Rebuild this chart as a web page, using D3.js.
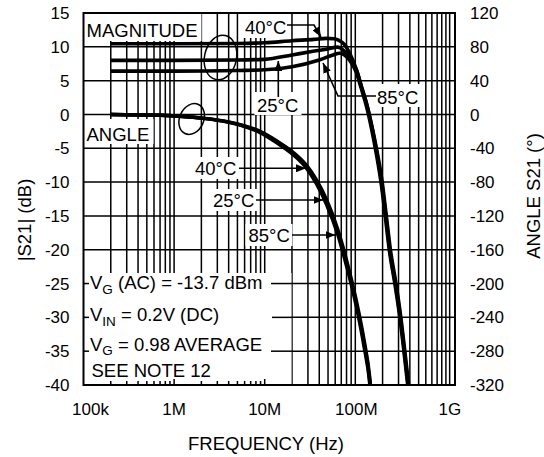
<!DOCTYPE html>
<html><head><meta charset="utf-8">
<script src="https://cdn.jsdelivr.net/npm/d3@7"></script>
<style>
html,body{margin:0;padding:0;background:#fff;}
svg{display:block;font-family:"Liberation Sans",Arial,Helvetica,sans-serif;}
</style></head><body>
<svg id="chart" width="544" height="457"></svg>
<script>
// ---------- DATA ----------
const xTickValues = [1e5, 1e6, 1e7, 1e8, 1e9];
const xTickLabels = ["100k", "1M", "10M", "100M", "1G"];
const yLeftTicks = [15, 10, 5, 0, -5, -10, -15, -20, -25, -30, -35, -40];
const yRightTicks = [120, 80, 40, 0, -40, -80, -120, -160, -200, -240, -280, -320];

// Magnitude |S21| (dB)
const mag40Freq = [2e5, 1e6, 5e6, 1e7, 2e7, 3.5e7, 4.8e7, 5.8e7, 6.5e7, 7.66e7, 8.7e7, 1.03e8, 1.17e8, 1.33e8, 1.45e8, 1.64e8, 1.95e8, 2.17e8, 2.4e8, 2.77e8, 3.14e8, 3.48e8, 3.83e8, 4.0e8];
const mag40Db   = [10.45, 10.45, 10.5, 10.6, 10.9, 11.1, 11.25, 11.2, 11.0, 10.3, 9.0, 6.6, 4.1, 1.6, -0.5, -4, -10, -15, -20, -25, -30, -35, -40, -42];
const mag25Freq = [2e5, 1e6, 5e6, 1e7, 2e7, 3.3e7, 4.8e7, 6.4e7, 7.3e7, 8.2e7, 1.04e8, 1.18e8, 1.35e8, 1.47e8, 1.67e8, 1.98e8, 2.2e8, 2.44e8, 2.81e8, 3.18e8, 3.52e8, 3.88e8, 4.05e8];
const mag25Db   = [8.0, 8.0, 8.05, 8.15, 8.8, 9.3, 9.65, 9.95, 9.55, 8.8, 6.4, 3.9, 1.3, -0.8, -4.3, -10, -15, -20, -25, -30, -35, -40, -42];
const mag85Freq = [2e5, 1e6, 5e6, 1e7, 2e7, 4e7, 5.7e7, 6.7e7, 7.6e7, 8.7e7, 1.02e8, 1.16e8, 1.31e8, 1.43e8, 1.61e8, 1.92e8, 2.14e8, 2.37e8, 2.73e8, 3.1e8, 3.44e8, 3.79e8, 3.95e8];
const mag85Db   = [6.4, 6.4, 6.5, 6.6, 7.05, 8.05, 8.8, 9.05, 8.8, 8.0, 6.3, 3.9, 1.5, -0.6, -4, -10, -15, -20, -25, -30, -35, -40, -42];

// Angle S21 (degrees)
const angFreq = [2e5, 7e5, 2.07e6, 3.77e6, 5.77e6, 8.8e6, 1.35e7, 2.05e7, 2.89e7, 3.73e7, 4.81e7, 6.46e7, 8.0e7, 9.15e7, 1.074e8, 1.242e8, 1.445e8, 1.5e8];
const ang40 = [0, -1, -4.3, -8.2, -12.8, -19.6, -31, -44.5, -60, -77.5, -100.5, -137, -172, -197, -230, -265, -311, -330];
const ang25 = [0, -1, -4.5, -8.5, -13.3, -20.4, -32.2, -46, -61.8, -79.9, -103.5, -140.2, -175.7, -200.5, -233.7, -269.2, -315.3, -335];
const ang85 = [0, -1, -4.7, -8.8, -13.8, -21.2, -33.4, -47.5, -63.6, -82.3, -106.5, -143.4, -179.4, -204, -237.4, -273.4, -319.5, -340];

// ---------- LAYOUT ----------
const L = 83.5, R = 455, T = 13, B = 385;
const svg = d3.select("#chart");
const x = d3.scaleLog().domain([1e5, 1.26e9]).range([L, R]);
const yL = d3.scaleLinear().domain([-40, 15]).range([B, T]);
const yR = d3.scaleLinear().domain([-320, 120]).range([B, T]);

const defs = svg.append("defs");
defs.append("clipPath").attr("id", "clip").append("rect")
  .attr("x", L).attr("y", T).attr("width", R - L).attr("height", B - T);
defs.append("marker").attr("id", "ah").attr("viewBox", "0 0 10 8")
  .attr("refX", 10).attr("refY", 4).attr("markerWidth", 10).attr("markerHeight", 8)
  .attr("markerUnits", "userSpaceOnUse").attr("orient", "auto")
  .append("path").attr("d", "M0,0 L10,4 L0,8 Z").attr("fill", "#000");

// ---------- GRID ----------
const gridF = [];
[1e5, 1e6, 1e7, 1e8].forEach(k => { for (let m = 1; m <= 9; m++) { if (m * k > 1e5) gridF.push(m * k); } });
gridF.push(1e9, 1.1e9);
const grid = svg.append("g").attr("stroke", "#000").attr("stroke-width", 1.5);
grid.selectAll("line.v").data(gridF).join("line")
  .attr("x1", d => x(d)).attr("x2", d => x(d)).attr("y1", T).attr("y2", B);
grid.selectAll("line.h").data(d3.range(-35, 15, 5)).join("line")
  .attr("x1", L).attr("x2", R).attr("y1", d => yL(d)).attr("y2", d => yL(d));

// ---------- MASKS (label backgrounds) ----------
const masks = [
  [84.5, 14, 117, 27],   // MAGNITUDE
  [84.5, 119, 69, 25],   // ANGLE
  [242, 14, 47, 24],     // 40°C mag
  [254.5, 92, 47, 23],   // 25°C mag
  [374, 84, 47, 23],     // 85°C mag
  [192, 157, 47, 22],    // 40°C angle
  [210, 189, 47, 22],    // 25°C angle
  [245.5, 224, 47, 22],  // 85°C angle
  [84.5, 273, 207, 111]  // condition box
];
svg.append("g").selectAll("rect").data(masks).join("rect")
  .attr("x", d => d[0]).attr("y", d => d[1]).attr("width", d => d[2]).attr("height", d => d[3])
  .attr("fill", "#fff");

// redraw gridline stubs at box edges
const stubs = svg.append("g").attr("stroke", "#000").attr("stroke-width", 1.5);
[-25, -30, -35].forEach(v => {
  stubs.append("line").attr("x1", L).attr("x2", 89).attr("y1", yL(v)).attr("y2", yL(v));
  stubs.append("line").attr("x1", v === -30 ? 272 : 271).attr("x2", x(2e7)).attr("y1", yL(v)).attr("y2", yL(v));
});
// minor ticks along the bottom inside the box
const boxTicks = [];
[1e5, 1e6].forEach(k => { for (let m = 2; m <= 9; m++) boxTicks.push(m * k); });
boxTicks.push(1e6, 1e7);
stubs.selectAll("line.t").data(boxTicks).join("line")
  .attr("x1", d => x(d)).attr("x2", d => x(d)).attr("y1", B).attr("y2", d => (d === 1e6 || d === 1e7) ? B - 6 : B - 4);

// ---------- CURVES ----------
const plot = svg.append("g").attr("clip-path", "url(#clip)");
const lineL = d3.line().x(d => x(d[0])).y(d => yL(d[1])).curve(d3.curveMonotoneX);
const lineR = d3.line().x(d => x(d[0])).y(d => yR(d[1])).curve(d3.curveMonotoneX);
const zip = (a, b) => a.map((v, i) => [v, b[i]]);
const magSeries = [zip(mag40Freq, mag40Db), zip(mag25Freq, mag25Db), zip(mag85Freq, mag85Db)];
const angSeries = [zip(angFreq, ang40), zip(angFreq, ang25), zip(angFreq, ang85)];
plot.selectAll("path.mag").data(magSeries).join("path").attr("class", "mag")
  .attr("d", lineL).attr("fill", "none").attr("stroke", "#000").attr("stroke-width", 3.6)
  .attr("stroke-linejoin", "round");
plot.selectAll("path.ang").data(angSeries).join("path").attr("class", "ang")
  .attr("d", lineR).attr("fill", "none").attr("stroke", "#000").attr("stroke-width", 3.4)
  .attr("stroke-linejoin", "round");

// ---------- ELLIPSES ----------
svg.append("ellipse").attr("cx", 220.5).attr("cy", 57.5).attr("rx", 16).attr("ry", 22.5)
  .attr("transform", "rotate(12 220.5 57.5)").attr("fill", "none").attr("stroke", "#000").attr("stroke-width", 1.5);
svg.append("ellipse").attr("cx", 191.7).attr("cy", 119).attr("rx", 12).attr("ry", 16)
  .attr("transform", "rotate(25 191.7 119)").attr("fill", "none").attr("stroke", "#000").attr("stroke-width", 1.5);

// ---------- ARROWS ----------
const arrows = [
  "M287,25 H314 L321,37",
  "M278.3,97 V61",
  "M376,96 H338 L323,63",
  "M239,168.3 H306",
  "M256,200 H323.5",
  "M292,235 H335.5"
];
svg.append("g").selectAll("path").data(arrows).join("path")
  .attr("d", d => d).attr("fill", "none").attr("stroke", "#000").attr("stroke-width", 1.6)
  .attr("marker-end", "url(#ah)");

// ---------- ANNOTATION TEXT ----------
const ann = svg.append("g").attr("font-size", 18.5).attr("fill", "#000");
const simpleLabels = [
  ["MAGNITUDE", 86.5, 36.5],
  ["ANGLE", 86.5, 140.5],
  ["40°C", 245, 34],
  ["25°C", 257, 112],
  ["85°C", 377, 103.5],
  ["40°C", 195, 175],
  ["25°C", 213, 207],
  ["85°C", 248.5, 241.5]
];
ann.selectAll("text.s").data(simpleLabels).join("text")
  .attr("x", d => d[1]).attr("y", d => d[2]).text(d => d[0]);

function subText(xp, yp, main, sub, rest) {
  const t = ann.append("text").attr("x", xp).attr("y", yp);
  t.append("tspan").text(main);
  t.append("tspan").attr("font-size", 13.5).attr("dy", 4.5).text(sub);
  t.append("tspan").attr("dy", -4.5).text(rest);
}
subText(90, 289, "V", "G", " (AC) = -13.7 dBm");
subText(90, 321, "V", "IN", " = 0.2V (DC)");
subText(90, 350.5, "V", "G", " = 0.98 AVERAGE");
ann.append("text").attr("x", 91.5).attr("y", 376.5).text("SEE NOTE 12");

// ---------- FRAME ----------
svg.append("rect").attr("x", L).attr("y", T).attr("width", R - L).attr("height", B - T)
  .attr("fill", "none").attr("stroke", "#000").attr("stroke-width", 2);

// ---------- AXES LABELS ----------
const tick = svg.append("g").attr("font-size", 17).attr("fill", "#000");
tick.selectAll("text.l").data(yLeftTicks).join("text")
  .attr("x", 69.5).attr("y", d => yL(d)).attr("dy", "0.36em").attr("text-anchor", "end").text(d => d);
tick.selectAll("text.r").data(yRightTicks).join("text")
  .attr("x", 470).attr("y", d => yR(d)).attr("dy", "0.36em").attr("text-anchor", "start").text(d => d);
const xLabelShift = [7, 0, 0, 1, 4];
tick.selectAll("text.b").data(xTickValues).join("text")
  .attr("x", (d, i) => x(d) + xLabelShift[i]).attr("y", 415).attr("text-anchor", "middle")
  .text((d, i) => xTickLabels[i]);

svg.append("text").attr("x", 266).attr("y", 450).attr("text-anchor", "middle")
  .attr("font-size", 18.5).text("FREQUENCY (Hz)");
svg.append("text").attr("transform", "translate(31,220) rotate(-90)").attr("text-anchor", "middle")
  .attr("font-size", 18.5).text("|S21| (dB)");
svg.append("text").attr("transform", "translate(540,196) rotate(-90)").attr("text-anchor", "middle")
  .attr("font-size", 18.5).text("ANGLE S21 (°)");
</script>
</body></html>
